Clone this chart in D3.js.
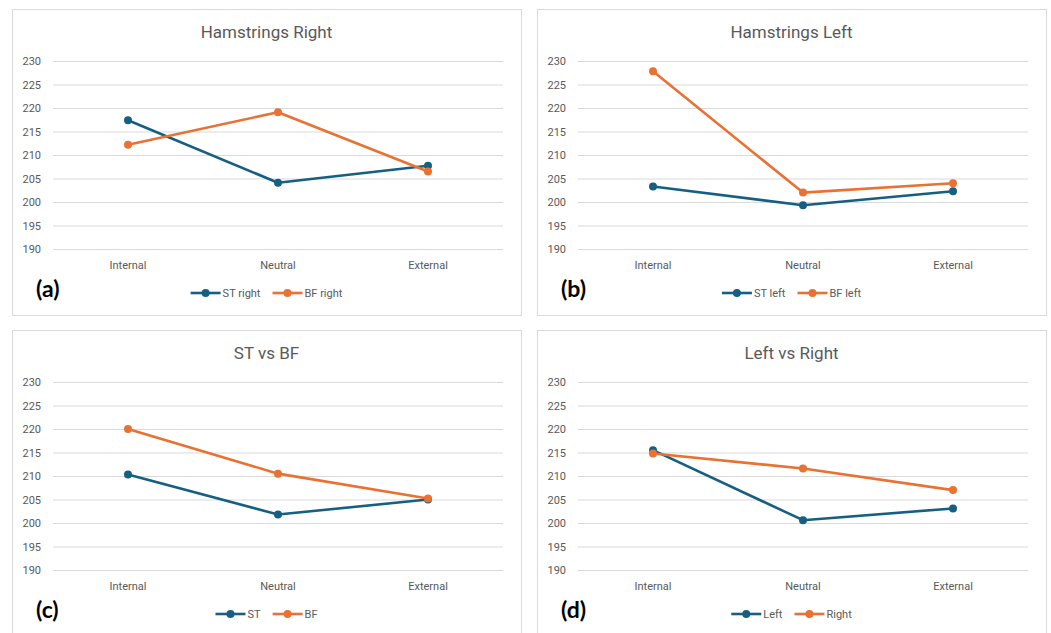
<!DOCTYPE html>
<html>
<head>
<meta charset="utf-8">
<script src="https://cdn.jsdelivr.net/npm/d3@7"></script>
<style>
  body { margin: 0; background: #fff; }
  svg { display: block; }
</style>
</head>
<body>
<svg id="chart" width="1051" height="633"></svg>
<script>
// categories and tick values
const categories = ['Internal', 'Neutral', 'External'];
const yTicks = [190, 195, 200, 205, 210, 215, 220, 225, 230];

// values
const stRight = [217.4, 204.1, 207.7];
const bfRight = [212.2, 219.1, 206.5];
const stLeft = [203.3, 199.3, 202.3];
const bfLeft = [227.8, 202.0, 204.0];
const stAll = [210.3, 201.8, 205.0];
const bfAll = [220.0, 210.5, 205.2];
const leftAll = [215.5, 200.6, 203.1];
const rightAll = [214.8, 211.6, 207.0];

const titles = ['Hamstrings Right', 'Hamstrings Left', 'ST vs BF', 'Left vs Right'];
const panelLabels = ['(a)', '(b)', '(c)', '(d)'];
const seriesNames = [
  ['ST right', 'BF right'],
  ['ST left', 'BF left'],
  ['ST', 'BF'],
  ['Left', 'Right']
];
const seriesValues = [
  [stRight, bfRight],
  [stLeft, bfLeft],
  [stAll, bfAll],
  [leftAll, rightAll]
];

const colors = ['#156082', '#E97132'];
const textGray = '#595959';
const gridGray = '#d9d9d9';

const svg = d3.select('#chart');
const panelW = 509, panelH = 306;
const origins = [[12, 9], [537, 9], [12, 330], [537, 330]];

const margin = { left: 41, right: 18, top: 52, bottom: 66 };

origins.forEach((o, i) => {
  const g = svg.append('g').attr('transform', `translate(${o[0]},${o[1]})`);

  g.append('rect')
    .attr('x', 0.5).attr('y', 0.5)
    .attr('width', panelW).attr('height', panelH)
    .attr('fill', '#fff')
    .attr('stroke', gridGray);

  const x = d3.scaleBand().domain(categories).range([margin.left, panelW - margin.right]);
  const y = d3.scaleLinear().domain([190, 230]).range([panelH - margin.bottom, margin.top]);

  // gridlines + y labels
  const yAxis = d3.axisLeft(y).tickValues(yTicks).tickSize(-(panelW - margin.left - margin.right)).tickPadding(12);
  const ya = g.append('g').attr('transform', `translate(${margin.left},0)`).call(yAxis);
  ya.select('.domain').remove();
  ya.selectAll('line').attr('stroke', gridGray).attr('stroke-width', 1);
  ya.selectAll('text')
    .attr('fill', textGray)
    .style('font-family', 'Roboto, sans-serif')
    .style('font-size', '11px');

  // x labels
  const xAxis = d3.axisBottom(x).tickSize(0).tickPadding(12);
  const xa = g.append('g').attr('transform', `translate(0,${panelH - margin.bottom})`).call(xAxis);
  xa.select('.domain').remove();
  xa.selectAll('text')
    .attr('fill', textGray)
    .style('font-family', 'Roboto, sans-serif')
    .style('font-size', '11px');

  // title
  g.append('text')
    .attr('x', panelW / 2).attr('y', 29)
    .attr('text-anchor', 'middle')
    .attr('fill', textGray)
    .style('font-family', 'Roboto, sans-serif')
    .style('font-size', '17px')
    .text(titles[i]);

  const line = d3.line()
    .x((d, j) => x(categories[j]) + x.bandwidth() / 2)
    .y(d => y(d));

  seriesValues[i].forEach((vals, s) => {
    g.append('path')
      .datum(vals)
      .attr('d', line)
      .attr('fill', 'none')
      .attr('stroke', colors[s])
      .attr('stroke-width', 2.6)
      .attr('stroke-linejoin', 'round');
    g.selectAll(null)
      .data(vals)
      .enter().append('circle')
      .attr('cx', (d, j) => x(categories[j]) + x.bandwidth() / 2)
      .attr('cy', d => y(d))
      .attr('r', 4)
      .attr('fill', colors[s]);
  });

  // legend, centred under the plot
  const leg = g.append('g').attr('transform', `translate(0,${panelH - 22})`);
  const items = [];
  let cx = 0;
  seriesNames[i].forEach((name, s) => {
    const it = leg.append('g');
    it.append('line').attr('x1', 0).attr('x2', 30).attr('y1', 0).attr('y2', 0)
      .attr('stroke', colors[s]).attr('stroke-width', 2.6);
    it.append('circle').attr('cx', 15).attr('cy', 0).attr('r', 4).attr('fill', colors[s]);
    const t = it.append('text')
      .attr('x', 32).attr('y', 4)
      .attr('fill', textGray)
      .style('font-family', 'Roboto, sans-serif')
      .style('font-size', '11px')
      .text(name);
    const w = 32 + t.node().getComputedTextLength();
    items.push({ it, w });
  });
  const gap = 12;
  const total = d3.sum(items, d => d.w) + gap * (items.length - 1);
  cx = panelW / 2 - total / 2;
  items.forEach(d => {
    d.it.attr('transform', `translate(${cx},0)`);
    cx += d.w + gap;
  });

  // panel label
  g.append('text')
    .attr('x', 24).attr('y', 288)
    .attr('fill', '#000')
    .style('font-family', 'Lato, sans-serif')
    .style('font-weight', 'bold')
    .style('font-size', '23px')
    .text(panelLabels[i]);
});
</script>
</body>
</html>
